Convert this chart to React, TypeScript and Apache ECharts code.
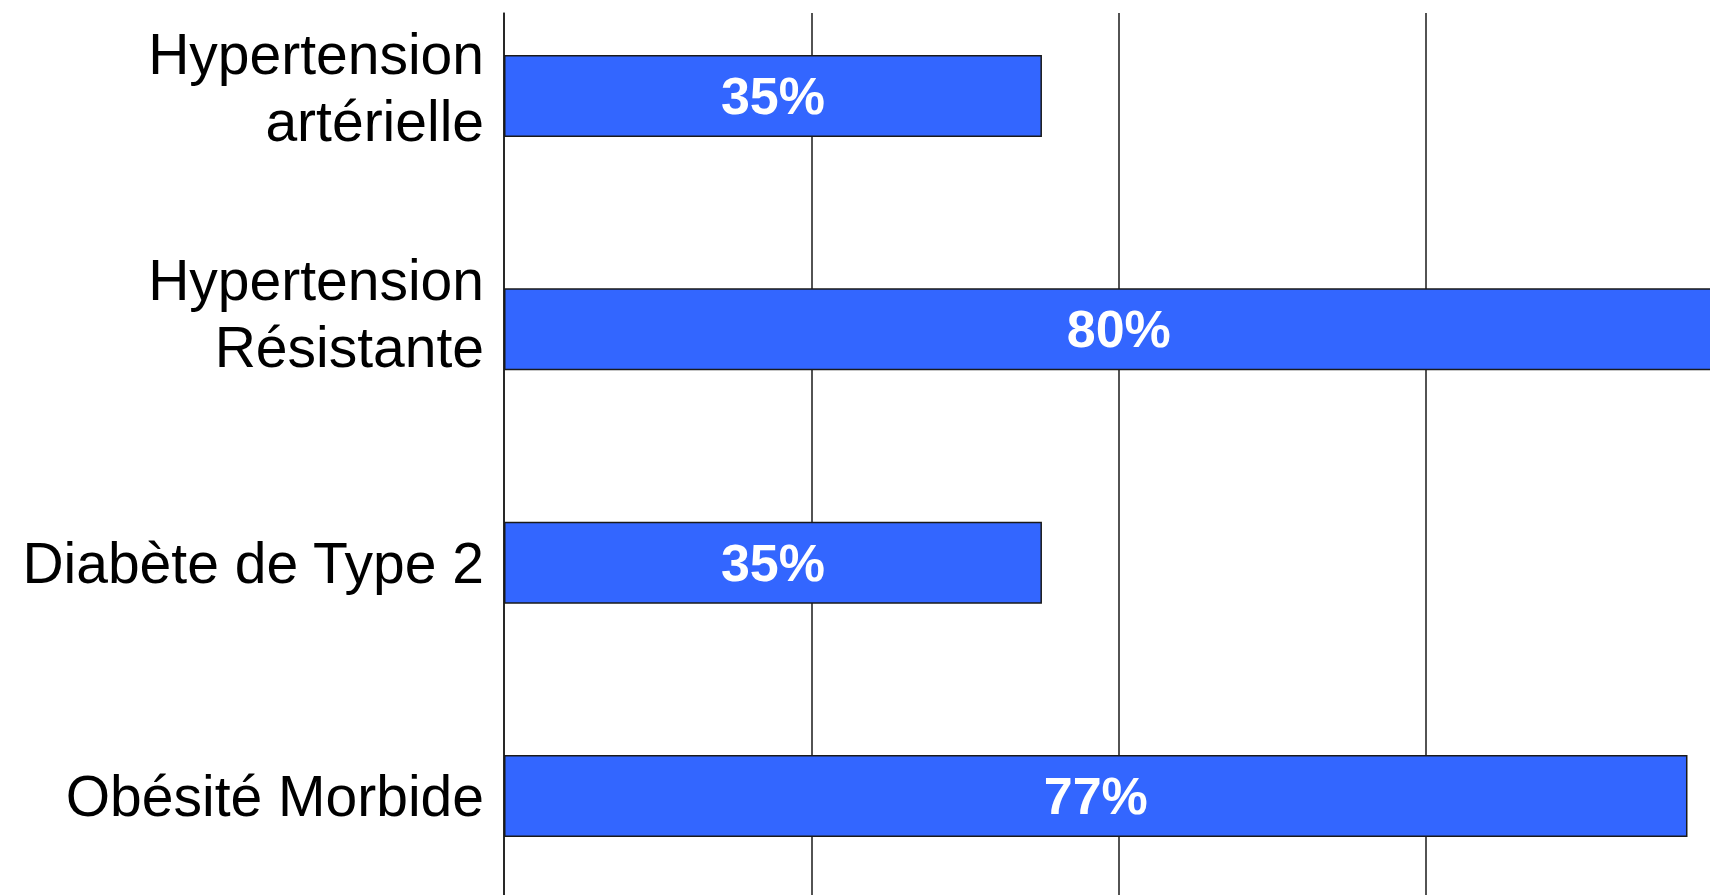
import React, { useEffect, useRef } from "react";
import * as echarts from "echarts";

// Prevalence by condition (percent)
const categories: string[] = [
  "Hypertension\nartérielle",
  "Hypertension\nRésistante",
  "Diabète de Type 2",
  "Obésité Morbide",
];
const values: number[] = [35, 80, 35, 77];
const xTicks: number[] = [0, 20, 40, 60, 80, 100];

const FONT = "'Liberation Sans', Arial, Helvetica, sans-serif";

// the two-line labels sit a little above their bars (extra space below them, px)
const labelLift: number[] = [18, 32, 0, 0];

export default function App() {
  const ref = useRef<HTMLDivElement>(null);

  useEffect(() => {
    if (!ref.current) return;
    const chart = echarts.init(ref.current, null, { renderer: "svg" });
    const xMin = xTicks[0];
    const xMax = xTicks[xTicks.length - 1];
    const step = xTicks[1] - xTicks[0];

    const rich: Record<string, any> = {
      t: {
        color: "#000000",
        fontFamily: FONT,
        fontSize: 57,
        lineHeight: 67,
        align: "right",
      },
    };
    labelLift.forEach((h, i) => {
      rich["s" + i] = { fontSize: 2, lineHeight: h, align: "right" };
    });

    chart.setOption({
      animation: false,
      backgroundColor: "#ffffff",
      grid: [
        // bars and category labels
        { left: 504, top: 96, width: 1537, height: 700, containLabel: false },
        // vertical reference lines spanning the full height
        { left: 504, top: 13, width: 1537, height: 920, containLabel: false },
      ],
      xAxis: [
        {
          gridIndex: 0,
          type: "value",
          min: xMin,
          max: xMax,
          interval: step,
          axisLine: { show: false },
          axisTick: { show: false },
          axisLabel: { show: false },
          splitLine: { show: false },
        },
        {
          gridIndex: 1,
          type: "value",
          min: xMin,
          max: xMax,
          interval: step,
          axisLine: { show: false },
          axisTick: { show: false },
          axisLabel: { show: false },
          splitLine: { show: true, lineStyle: { color: "#1a1a1a", width: 1.5 } },
        },
      ],
      yAxis: [
        {
          gridIndex: 0,
          type: "category",
          data: categories,
          inverse: true,
          boundaryGap: false,
          axisLine: { show: false },
          axisTick: { show: false },
          splitLine: { show: false },
          axisLabel: {
            margin: 20,
            align: "right",
            formatter: (value: string, index: number) => {
              const lines = value.split("\n").map((l) => `{t|${l}}`);
              if (labelLift[index] > 0) lines.push(`{s${index}| }`);
              return lines.join("\n");
            },
            rich,
          },
        },
        {
          gridIndex: 1,
          type: "value",
          min: 0,
          max: 1,
          axisLine: { show: true, lineStyle: { color: "#1a1a1a", width: 1.5 } },
          axisTick: { show: false },
          axisLabel: { show: false },
          splitLine: { show: false },
        },
      ],
      series: [
        {
          type: "bar",
          xAxisIndex: 0,
          yAxisIndex: 0,
          data: values,
          barWidth: 82,
          itemStyle: {
            color: "#3366FF",
            borderColor: "#1a1a1a",
            borderWidth: 1.5,
          },
          label: {
            show: true,
            position: "inside",
            formatter: "{c}%",
            color: "#ffffff",
            fontFamily: FONT,
            fontWeight: "bold",
            fontSize: 52,
          },
        },
      ],
    });

    return () => chart.dispose();
  }, []);

  return (
    <div
      ref={ref}
      style={{ position: "fixed", left: 0, top: 0, width: 2100, height: 895 }}
    />
  );
}
